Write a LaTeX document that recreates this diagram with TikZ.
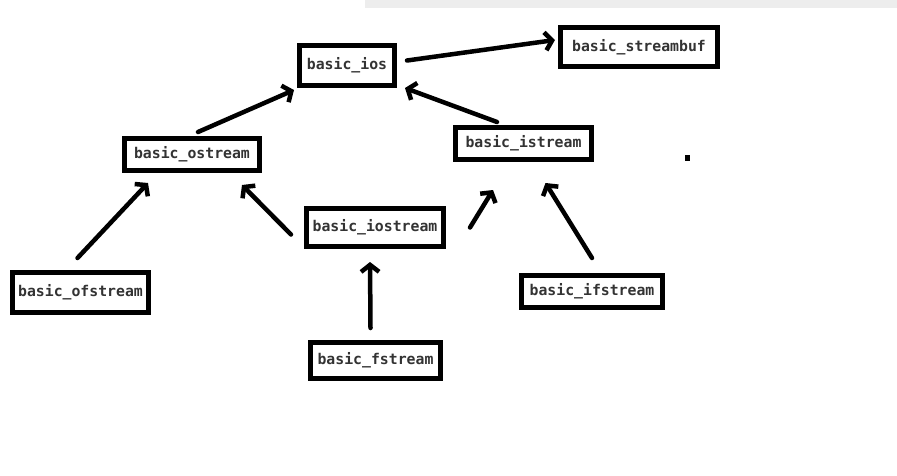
\documentclass[tikz,border=0pt]{standalone}
\usepackage{fontspec}
\setmonofont{DejaVu Sans Mono}
\usetikzlibrary{arrows.meta}

\begin{document}
\begin{tikzpicture}[
  x=1pt, y=-1pt,
  font=\fontsize{14.8}{16}\selectfont\ttfamily\bfseries,
  cls/.style={draw, line width=5pt, inner sep=0pt, text=black!80},
  arr/.style={-{Straight Barb[length=7pt,width=18pt]}, line width=4.5pt, line cap=round}
]
\useasboundingbox (0,0) rectangle (897,475);
\fill[black!7] (365,0) rectangle (897,8);
\fill (685,155) rectangle (690,161);
\node[cls, minimum width=95, minimum height=40] (ios) at (347,65.5) {basic\_ios};
\node[cls, minimum width=157, minimum height=39] (buf) at (639,47) {basic\_streambuf};
\node[cls, minimum width=135, minimum height=32] (os) at (192,154.5) {basic\_ostream};
\node[cls, minimum width=136, minimum height=32] (is) at (523.5,143.5) {basic\_istream};
\node[cls, minimum width=137, minimum height=38] (ios2) at (375,227.5) {basic\_iostream};
\node[cls, minimum width=136, minimum height=40] (ofs) at (80.5,292.5) {basic\_ofstream};
\node[cls, minimum width=130, minimum height=36] (fs) at (375.5,360.5) {basic\_fstream};
\node[cls, minimum width=141, minimum height=32] (ifs) at (592,291.5) {basic\_ifstream};
\draw[arr] ([shift={(10,-5)}]ios.east) -- ([shift={(-3,-7)}]buf.west);
\draw[arr] ([shift={(6,-4)}]os.north) -- ([shift={(-3,2)}]ios.south west);
\draw[arr] ([shift={(44,-3)}]is.north west) -- ([shift={(8,0)}]ios.south east);
\draw[arr] ([shift={(-3,-12)}]ofs.north) -- ([shift={(26,10)}]os.south west);
\draw[arr] ([shift={(-13,7)}]ios2.west) -- ([shift={(-20,12)}]os.south east);
\draw[arr] ([shift={(24,0)}]ios2.east) -- ([shift={(40,28)}]is.south west);
\draw[arr] ([shift={(-5,-12)}]fs.north) -- ([shift={(-5,13)}]ios2.south);
\draw[arr] ([shift={(0,-15)}]ifs.north) -- ([shift={(22,21)}]is.south);
\end{tikzpicture}
\end{document}
